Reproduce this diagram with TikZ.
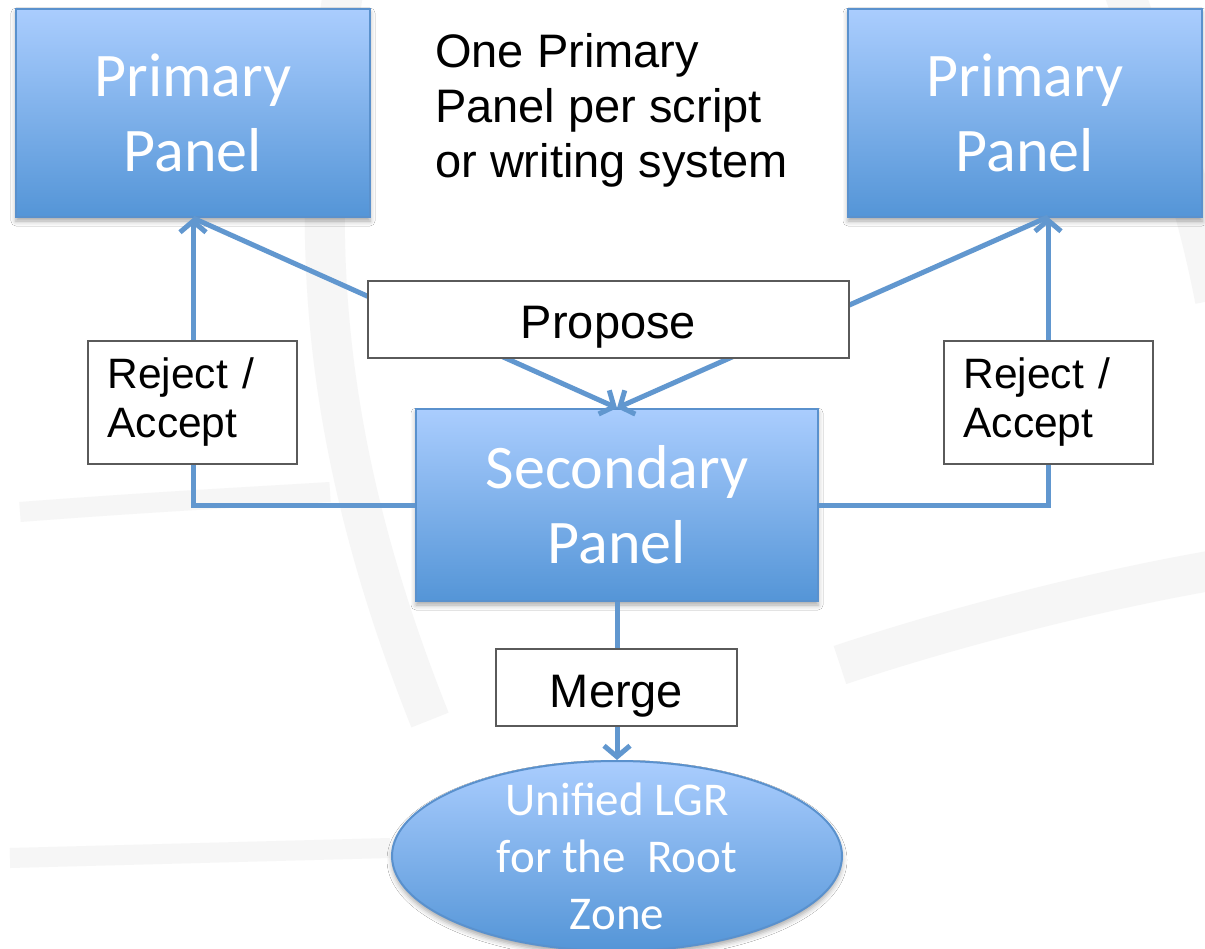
\documentclass[tikz,border=0pt]{standalone}
\usepackage{fontspec}
\setmainfont{Carlito}
\newfontfamily\arialfont{Liberation Sans}
\usetikzlibrary{shapes.geometric,arrows.meta,shadows.blur}
\definecolor{paneltop}{RGB}{170,205,254}
\definecolor{panelbot}{RGB}{84,149,215}
\definecolor{paneledge}{RGB}{90,145,205}
\definecolor{linkblue}{RGB}{97,151,207}
\definecolor{tagedge}{RGB}{90,90,90}
\definecolor{markgray}{RGB}{246,246,246}
\tikzset{
	panel/.style={rectangle, draw=paneledge, line width=2pt, top color=paneltop, bottom color=panelbot, text=white, align=center, font=\fontsize{62}{75}\selectfont, blur shadow={shadow xshift=0pt, shadow yshift=-4pt, shadow blur radius=5pt, shadow opacity=35}},
	tag/.style={rectangle, draw=tagedge, line width=1.5pt, fill=white, font=\arialfont\fontsize{47}{49}\selectfont},
	oneline/.style={text height=39pt, text depth=0pt},
	vote/.style={tag, align=left, text width=170pt, inner xsep=0pt, minimum width=209pt, minimum height=123pt, font=\arialfont\fontsize{42.5}{49}\selectfont},
	link/.style={draw=linkblue, line width=5pt},
	linkto/.style={link, -{Straight Barb[length=11pt,width=26pt]}},
	wm/.style={markgray, line width=40pt},
}
\begin{document}
\begin{tikzpicture}[x=1pt, y=-1pt]
	\useasboundingbox[fill=white] (0,0) rectangle (1205,949);
	\draw [wm] (345,-20) .. controls (310,200) and (310,420) .. (430,720);
	\draw [wm] (1120,-20) .. controls (1170,120) and (1200,220) .. (1215,300);
	\draw [wm, line width=20pt] (20,512) .. controls (150,502) and (250,497) .. (330,492);
	\draw [wm, line width=20pt] (10,858) -- (390,848);
	\draw [wm] (840,665) .. controls (960,625) and (1100,590) .. (1215,570);
	\node [panel, minimum width=354pt, minimum height=208pt] (lp) at (193,113) {Primary\\Panel};
	\node [panel, minimum width=354pt, minimum height=208pt] (rp) at (1025,113) {Primary\\Panel};
	\node [panel, minimum width=402pt, minimum height=192pt] (sec) at (617,505) {Secondary\\Panel};
	\node [panel, ellipse, minimum width=450pt, minimum height=190pt, label={[text=white, align=center, font=\fontsize{47}{57}\selectfont]center:{Unified LGR\\for the~~Root\\Zone}}] (lgr) at (617,856) {};
	\node [anchor=north west, align=left, inner sep=0pt, font=\arialfont\fontsize{47}{55}\selectfont] (note) at (435,33) {One Primary\\Panel per script\\or writing system};
	\coordinate (rpin) at (1048,217);
	\draw [linkto] (sec.west) -| (lp.south);
	\draw [linkto] (sec.east) -| (rpin);
	\draw [linkto] (lp.south) -- (sec.north);
	\draw [linkto] (rpin) -- (sec.north);
	\draw [linkto] (sec.south) -- (lgr.north);
	\node [tag, oneline, minimum width=481pt, minimum height=77pt] (propose) at (608.5,319.5) {Propose};
	\node [tag, oneline, minimum width=241pt, minimum height=77pt] (merge) at (616.5,687.5) {Merge};
	\node [vote] (lvote) at (192.5,402.5) {Reject /\\Accept};
	\node [vote] (rvote) at (1048.5,402.5) {Reject /\\Accept};
\end{tikzpicture}
\end{document}
